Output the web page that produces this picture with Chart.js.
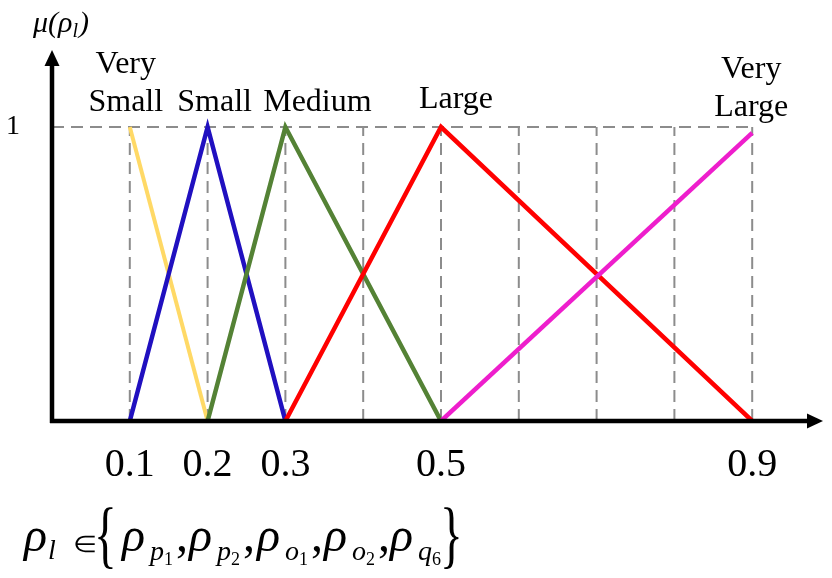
<!DOCTYPE html>
<html>
<head>
<meta charset="utf-8">
<script src="https://cdn.jsdelivr.net/npm/chart.js@4.4.1/dist/chart.umd.min.js"></script>
<style>
  html, body { margin: 0; padding: 0; background: #fff; }
  #wrap { position: relative; width: 832px; height: 578px; overflow: hidden; }
  canvas { position: absolute; left: 0; top: 0; }
</style>
</head>
<body>
<div id="wrap">
  <canvas id="c" width="832" height="578" aria-label="ρl ∈ {ρp1, ρp2, ρo1, ρo2, ρq6}"></canvas>
</div>
<script>
// ---- data ----
const categories = ['Very Small', 'Small', 'Medium', 'Large', 'Very Large'];
const verySmallX = [0.1, 0.2];
const verySmallY = [1, 0];
const smallX = [0.1, 0.2, 0.3];
const smallY = [0, 1, 0];
const mediumX = [0.2, 0.3, 0.5];
const mediumY = [0, 1, 0];
const largeX = [0.3, 0.5, 0.9];
const largeY = [0, 1, 0];
const veryLargeX = [0.5, 0.9];
const veryLargeY = [0, 0.98];
const tickValues = [0.1, 0.2, 0.3, 0.5, 0.9];
const tickLabels = ['0.1', '0.2', '0.3', '0.5', '0.9'];
const gridValues = [0.1, 0.2, 0.3, 0.4, 0.5, 0.6, 0.7, 0.8, 0.9];
const yTickValues = [1];
const yTickLabels = ['1'];
const setSymbol = 'ρ';
const setMemberSubs = [['p', '1'], ['p', '2'], ['o', '1'], ['o', '2'], ['q', '6']];

const SERIF = "'Liberation Serif', 'Times New Roman', serif";
const pts = (xs, ys) => xs.map((x, i) => ({ x: x, y: ys[i] }));

// dashed reference lines built from grid values
const gridPts = [];
gridValues.forEach(g => { gridPts.push({ x: g, y: 0 }, { x: g, y: 1 }, { x: g, y: null }); });
gridPts.push({ x: 0, y: 1 }, { x: gridValues[gridValues.length - 1], y: 1 });

const seriesColors = ['#FFD966', '#2010C0', '#548235', '#FF0000', '#EE1ECC'];
const seriesWidths = [4, 4.5, 4.5, 4.5, 4.5];
const seriesData = [pts(verySmallX, verySmallY), pts(smallX, smallY), pts(mediumX, mediumY), pts(largeX, largeY), pts(veryLargeX, veryLargeY)];

// label layout (styling)
const labelLayout = [
  { lines: ['Very', 'Small'], x: verySmallX[0], dx: -4, dy: [-54, -16] },
  { lines: ['Small'], x: smallX[1], dx: 7, dy: [-16] },
  { lines: ['Medium'], x: mediumX[1], dx: 32, dy: [-16] },
  { lines: ['Large'], x: largeX[1], dx: 15, dy: [-19] },
  { lines: ['Very', 'Large'], x: veryLargeX[1], dx: -1, dy: [-49, -11] }
];

const datasets = seriesData.map((d, i) => ({
  label: categories[i], data: d, borderColor: seriesColors[i], borderWidth: seriesWidths[i],
  pointRadius: 0, fill: false, tension: 0, borderCapStyle: 'butt', borderJoinStyle: 'miter', order: 5 - i
}));
datasets.push({
  label: 'grid', data: gridPts, borderColor: '#8C8C8C', borderWidth: 2, borderDash: [12, 7],
  pointRadius: 0, fill: false, spanGaps: false, order: 20
});

// draw one glyph fitted into a box (x, top, w, h)
function fitGlyph(ctx, ch, x, top, w, h) {
  ctx.save();
  ctx.font = '60px ' + SERIF;
  ctx.textAlign = 'left'; ctx.textBaseline = 'alphabetic';
  const m = ctx.measureText(ch);
  const bh = m.actualBoundingBoxAscent + m.actualBoundingBoxDescent;
  const bw = m.actualBoundingBoxRight + m.actualBoundingBoxLeft;
  ctx.translate(x, top);
  ctx.scale(w / bw, h / bh);
  ctx.fillText(ch, m.actualBoundingBoxLeft, m.actualBoundingBoxAscent);
  ctx.restore();
}

function drawFormula(ctx) {
  const base = 551;
  ctx.save();
  ctx.fillStyle = '#000'; ctx.textAlign = 'left'; ctx.textBaseline = 'alphabetic';
  const big = 'italic 48px ' + SERIF, sub = 'italic 28px ' + SERIF, sub2 = '18px ' + SERIF;
  let x = 24;
  ctx.font = big; ctx.fillText(setSymbol, x, base); x += ctx.measureText(setSymbol).width + 1;
  ctx.font = sub; ctx.fillText('l', x, base + 8);
  fitGlyph(ctx, '∈', 75, 535, 20, 17);
  fitGlyph(ctx, '{', 98, 508, 15, 62);
  const starts = [122, 189, 257, 324, 390];
  setMemberSubs.forEach((s, k) => {
    let px = starts[k];
    ctx.font = big; ctx.fillText(setSymbol, px, base);
    px += ctx.measureText(setSymbol).width + 5;
    ctx.font = sub; ctx.fillText(s[0], px, base + 9);
    px += ctx.measureText(s[0]).width;
    ctx.font = sub2; ctx.fillText(s[1], px, base + 14);
    px += ctx.measureText(s[1]).width + 3;
    if (k < setMemberSubs.length - 1) { ctx.font = '48px ' + SERIF; ctx.fillText(',', px, base); }
  });
  fitGlyph(ctx, '}', 444, 508, 15, 62);
  ctx.restore();
}

const overlay = {
  id: 'overlay',
  afterDatasetsDraw(chart) {
    const ctx = chart.ctx, xs = chart.scales.x, ys = chart.scales.y, ca = chart.chartArea;
    ctx.save();
    const x0 = xs.getPixelForValue(0), y0 = ys.getPixelForValue(0);
    ctx.strokeStyle = '#000'; ctx.fillStyle = '#000'; ctx.lineWidth = 4.5;
    ctx.beginPath(); ctx.moveTo(x0 - 2, y0); ctx.lineTo(ca.right - 12, y0); ctx.stroke();
    ctx.beginPath(); ctx.moveTo(x0, y0 + 2); ctx.lineTo(x0, ca.top + 12); ctx.stroke();
    ctx.beginPath(); ctx.moveTo(ca.right, y0); ctx.lineTo(ca.right - 16, y0 - 7.5); ctx.lineTo(ca.right - 16, y0 + 7.5); ctx.closePath(); ctx.fill();
    ctx.beginPath(); ctx.moveTo(x0, ca.top); ctx.lineTo(x0 - 7.5, ca.top + 16); ctx.lineTo(x0 + 7.5, ca.top + 16); ctx.closePath(); ctx.fill();
    const y1 = ys.getPixelForValue(1);
    ctx.font = '32px ' + SERIF; ctx.textAlign = 'center'; ctx.textBaseline = 'alphabetic';
    labelLayout.forEach(l => {
      const px = xs.getPixelForValue(l.x) + l.dx;
      l.lines.forEach((t, k) => ctx.fillText(t, px, y1 + l.dy[k]));
    });
    ctx.textAlign = 'left';
    let tx = 33; const ty = 32;
    ctx.font = 'italic 30px ' + SERIF;
    ctx.fillText('μ(ρ', tx, ty); tx += ctx.measureText('μ(ρ').width;
    ctx.font = 'italic 20px ' + SERIF;
    ctx.fillText('l', tx, ty + 5); tx += ctx.measureText('l').width + 1;
    ctx.font = 'italic 30px ' + SERIF;
    ctx.fillText(')', tx, ty);
    ctx.restore();
    drawFormula(ctx);
  }
};

new Chart(document.getElementById('c'), {
  type: 'line',
  data: { datasets: datasets },
  options: {
    responsive: false, animation: false, events: [],
    layout: { padding: { top: 50, right: 9, left: 0, bottom: 0 } },
    plugins: { legend: { display: false }, tooltip: { enabled: false } },
    scales: {
      x: {
        type: 'linear', min: 0, max: 0.991,
        grid: { display: false, drawTicks: false }, border: { display: false },
        afterBuildTicks: s => { s.ticks = tickValues.map(v => ({ value: v })); },
        afterFit: s => { s.height = 157; },
        ticks: { autoSkip: false, maxRotation: 0, padding: 20, color: '#000',
          font: { family: SERIF, size: 40 }, callback: (v, i) => tickLabels[i] }
      },
      y: {
        type: 'linear', min: 0, max: 1.262,
        grid: { display: false, drawTicks: false }, border: { display: false },
        afterBuildTicks: s => { s.ticks = yTickValues.map(v => ({ value: v })); },
        afterFit: s => { s.width = 52; },
        ticks: { padding: 32, color: '#000', font: { family: SERIF, size: 28 }, callback: (v, i) => yTickLabels[i] }
      }
    }
  },
  plugins: [overlay]
});
</script>
</body>
</html>
